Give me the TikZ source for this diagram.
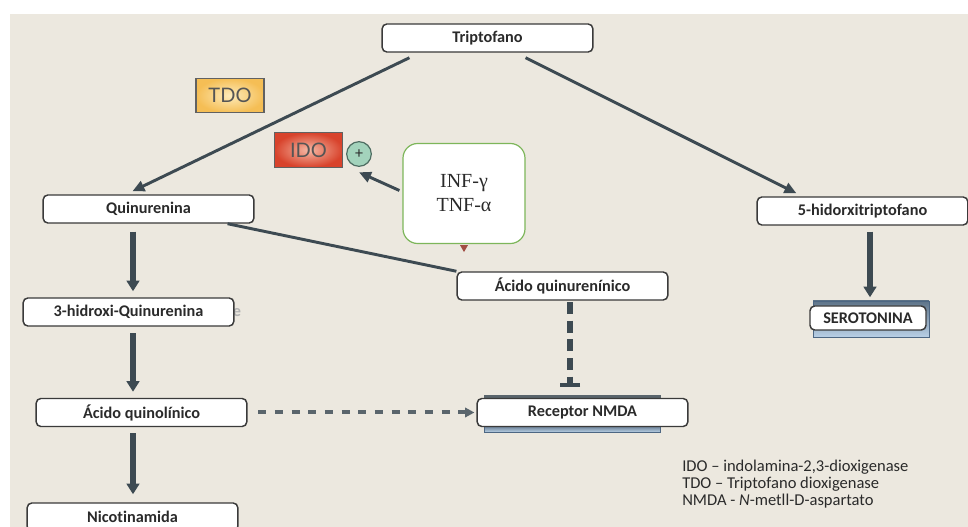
\documentclass[tikz,border=0pt]{standalone}
\usepackage{fontspec}
\setmainfont{Carlito}[Ligatures=NoCommon]
\newfontfamily\greekserif{Liberation Serif}
\newfontfamily\enzfont{Lato}
\usepackage{tikz}
\usetikzlibrary{arrows.meta,positioning,calc,backgrounds}
\definecolor{paper}{HTML}{ECE8DF}
\definecolor{boxline}{HTML}{3A3A3A}
\definecolor{slate}{HTML}{3D4A52}
\definecolor{inkdark}{HTML}{2A2A2A}
\definecolor{tdoyellow}{HTML}{F5BE55}
\definecolor{tdolight}{HTML}{FDEBBB}
\definecolor{idored}{HTML}{D8432C}
\definecolor{idolight}{HTML}{F6B9A5}
\definecolor{plusgreen}{HTML}{A3D3BC}
\definecolor{plusline}{HTML}{4E6D62}
\definecolor{cytgreen}{HTML}{7DB65A}
\definecolor{tipred}{HTML}{A24E45}
\definecolor{platedark}{HTML}{5E7489}
\definecolor{platelight}{HTML}{B9D0E6}
\definecolor{plateline}{HTML}{4D6783}

\begin{document}
\begin{tikzpicture}[
    x=0.75pt, y=-0.75pt,
    >=Latex,
    path_box/.style={draw=boxline, fill=white, rounded corners=3.5pt, line width=1.1pt, minimum width=158pt, minimum height=21pt, inner sep=0pt, font=\bfseries\fontsize{12.2}{14}\selectfont, text=inkdark},
    enzyme_box/.style={draw=boxline!80, line width=0.9pt, minimum width=51pt, minimum height=26pt, inner sep=0pt, font=\enzfont\fontsize{15}{17}\selectfont, text=inkdark!80},
    cyto_box/.style={draw=cytgreen, fill=white, rounded corners=11pt, line width=0.9pt, minimum width=91.5pt, minimum height=75pt, align=center, font=\greekserif\fontsize{15}{18}\selectfont, text=inkdark},
    plate/.style={draw=plateline, line width=0.6pt, top color=platedark, bottom color=platelight},
    step_flow/.style={-{Triangle[width=9.5pt,length=8pt]}, line width=4.5pt, slate},
    diag_flow/.style={-{Triangle[width=8pt,length=9pt]}, line width=2.2pt, slate},
    block_flow/.style={-{Bar[width=15pt,line width=3pt]}, line width=4.5pt, slate, dash pattern=on 9pt off 5pt},
    weak_flow/.style={-{Triangle[width=7pt,length=7pt]}, line width=3pt, slate!85, dash pattern=on 6pt off 6.5pt}
]
  \useasboundingbox (0,0) rectangle (968,527);
  \begin{scope}[on background layer]
    \fill[paper] (10,14) rectangle (968,527);
  \end{scope}

  % Pathway nodes
  \node[path_box] (trip) at (487.5,38) {Triptofano};
  \node[path_box] (quin) at (148.5,209) {Quinurenina};
  \node[text=gray!60, font=\bfseries\fontsize{12.2}{14}\selectfont] (stray) at (237,313) {e};
  \node[path_box] (hq) at (128.5,312) {3-hidroxi-Quinurenina};
  \node[path_box] (aqo) at (141.5,412.5) {Ácido quinolínico};
  \node[path_box] (nic) at (132.5,517) {Nicotinamida};
  \node[path_box] (acq) at (562.5,286) {Ácido quinurenínico};
  \node[path_box] (nmda) at (582.5,412.5) {Receptor NMDA};
  \node[path_box] (hy) at (862.5,211) {5-hidorxitriptofano};
  \node[plate, minimum width=87pt, minimum height=27pt] (seroplate) at (871,319) {};
  \node[path_box, minimum width=87pt, minimum height=18pt] (sero) at (868,318) {SEROTONINA};

  % Receptor plates
  \begin{scope}[on background layer]
    \fill[slate!85] ([shift={(8,-3)}]nmda.north west) rectangle ([shift={(-28,1)}]nmda.north east);
    \draw[plate] ([shift={(8,-2)}]nmda.south west) rectangle ([shift={(-28,5)}]nmda.south east);
  \end{scope}

  % Enzymes and cytokines
  \node[enzyme_box, inner color=tdolight, outer color=tdoyellow] (tdo) at (230,95.5) {TDO};
  \node[enzyme_box, inner color=idolight, outer color=idored] (ido) at (308.5,150) {IDO};
  \node[circle, draw=plusline, fill=plusgreen, line width=0.9pt, minimum size=18.5pt, inner sep=0pt, font=\fontsize{12}{12}\selectfont, text=inkdark] (plus) at (359,154) {+};
  \node[cyto_box] (inf) at (464,193.5) {INF-γ\\TNF-α};
  \fill[tipred] ([shift={(-4,1)}]inf.south) -- ++(8,0) -- ++(-4,7) -- cycle;

  % Legend
  \node[anchor=west, align=left, inner sep=0pt, font=\fontsize{12.4}{12.75}\selectfont, text=inkdark] (legend) at (682,484)
    {IDO – indolamina-2,3-dioxigenase\\TDO – Triptofano dioxigenase\\NMDA - \textit{N}-metll-D-aspartato};

  % Connecting flows
  \coordinate (colL) at (133,0);
  \coordinate (colM) at (570,0);
  \coordinate (colR) at (870,0);
  \draw[diag_flow] ([shift={(28,5)}]trip.south west) -- ([shift={(90,-3)}]quin.north west);
  \draw[diag_flow] ([shift={(-68,5)}]trip.south east) -- ([shift={(40,-3)}]hy.north west);
  \draw[line width=2.2pt, slate] ([shift={(-27,0)}]quin.south east) -- (acq.north west);
  \draw[diag_flow] ([shift={(-3,-3)}]inf.west) -- ([yshift=-4pt]plus.south);

  \draw[step_flow, shorten <=6pt, shorten >=4.5pt] (quin.south -| colL) -- (hq.north -| colL);
  \draw[step_flow, shorten <=5pt, shorten >=4.5pt] (hq.south -| colL) -- (aqo.north -| colL);
  \draw[step_flow, shorten <=4.5pt, shorten >=6pt] (aqo.south -| colL) -- (nic.north -| colL);
  \draw[step_flow, shorten <=4.5pt, shorten >=2.5pt] (hy.south -| colR) -- (seroplate.north -| colR);

  \draw[weak_flow, shorten <=8pt, shorten >=1.5pt] (aqo.east) -- (aqo.east -| nmda.west);
  \draw[block_flow, shorten <=1pt, shorten >=8pt] (acq.south -| colM) -- (nmda.north -| colM);

\end{tikzpicture}
\end{document}
